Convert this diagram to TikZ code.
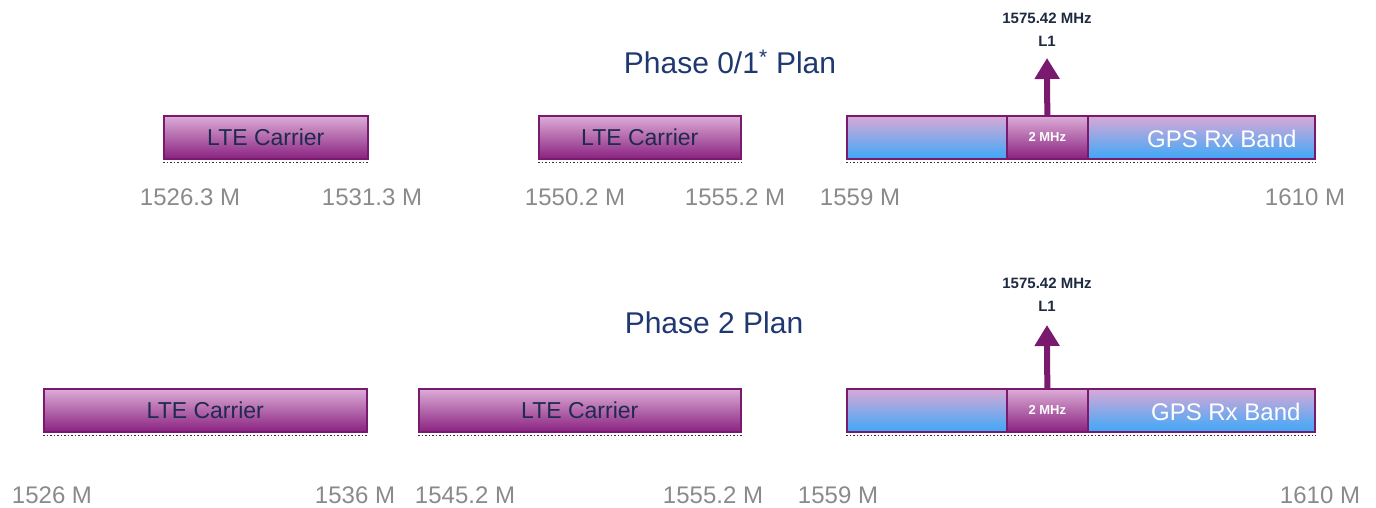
\documentclass[tikz,border=0pt]{standalone}
\usepackage{fontspec}
\setmainfont{Liberation Sans}
\usetikzlibrary{arrows.meta}

\definecolor{bandedge}{HTML}{7A1A6E}
\definecolor{ltetop}{HTML}{DCADD6}
\definecolor{ltebot}{HTML}{8A2280}
\definecolor{gpstop}{HTML}{D9A8D5}
\definecolor{gpsbot}{HTML}{3EA8F8}
\definecolor{ltetext}{HTML}{1E2A50}
\definecolor{titleblue}{HTML}{1F3870}
\definecolor{freqgray}{HTML}{8A8A8A}
\definecolor{l1text}{HTML}{1E2A40}

\tikzset{
  band/.style={draw=bandedge, line width=1.6pt, minimum height=43pt, inner sep=0pt, anchor=north west},
  ltebox/.style={band, top color=ltetop, bottom color=ltebot, text=ltetext, font=\fontsize{23}{27}\selectfont},
  gpsbox/.style={band, top color=gpstop, bottom color=gpsbot, minimum width=468pt},
  mhzbox/.style={band, top color=ltetop, bottom color=ltebot, minimum width=81pt, text=white, font=\fontsize{13}{15}\selectfont\bfseries},
  gpstext/.style={text=white, font=\fontsize{24}{28}\selectfont, anchor=east},
  freq/.style={text=freqgray, font=\fontsize{24}{28}\selectfont},
  plantitle/.style={text=titleblue, font=\fontsize{30}{34}\selectfont},
  l1label/.style={text=l1text, font=\fontsize{15}{17}\selectfont\bfseries},
  l1arrow/.style={draw=bandedge, line width=6pt, -{Triangle[width=24pt,length=21pt]}},
  shadowline/.style={black!80, line width=1.5pt, dotted}
}

\begin{document}
\begin{tikzpicture}[x=1pt, y=-1pt]
\useasboundingbox (0,0) rectangle (1376,508);

% phase 0/1
\node[plantitle] (titlea) at (730,62) {Phase 0/1\textsuperscript{*} Plan};
\node[ltebox, minimum width=204pt] (ltea) at (163,115) {LTE Carrier};
\node[ltebox, minimum width=202pt] (lteb) at (538,115) {LTE Carrier};
\node[gpsbox] (gpsa) at (846,115) {};
\node[mhzbox] (mhzboxa) at (1006,115) {2 MHz};
\node[gpstext] (gpstexta) at (1300,139) {GPS Rx Band};
\coordinate (tipa) at (1047,58);
\draw[l1arrow] (mhzboxa.north) -- (tipa);
\node[l1label] (mhza) at (1047,18) {1575.42 MHz};
\node[l1label] (l1a) at (1047,41) {L1};

% phase 2
\node[plantitle] (titleb) at (714,323) {Phase 2 Plan};
\node[ltebox, minimum width=323pt] (ltec) at (43,388) {LTE Carrier};
\node[ltebox, minimum width=322pt] (lted) at (418,388) {LTE Carrier};
\node[gpsbox] (gpsb) at (846,388) {};
\node[mhzbox] (mhzboxb) at (1006,388) {2 MHz};
\node[gpstext] (gpstextb) at (1304,412) {GPS Rx Band};
\coordinate (tipb) at (1047,325);
\draw[l1arrow] (mhzboxb.north) -- (tipb);
\node[l1label] (mhzb) at (1047,283) {1575.42 MHz};
\node[l1label] (l1b) at (1047,306) {L1};

% shadows
\foreach \b in {ltea,lteb,gpsa,ltec,lted,gpsb}
  \draw[shadowline] ([yshift=-3pt]\b.south west) -- ([yshift=-3pt]\b.south east);

% frequencies
\foreach \x/\y/\t/\n in {190/197/1526.3 M/fa, 372/197/1531.3 M/fb, 575/197/1550.2 M/fc, 735/197/1555.2 M/fd, 860/197/1559 M/fe, 1305/197/1610 M/ff,
  52/495/1526 M/fg, 355/495/1536 M/fh, 465/495/1545.2 M/fi, 713/495/1555.2 M/fj, 838/495/1559 M/fk, 1320/495/1610 M/fl}
  \node[freq] (\n) at (\x,\y) {\t};
\end{tikzpicture}
\end{document}
